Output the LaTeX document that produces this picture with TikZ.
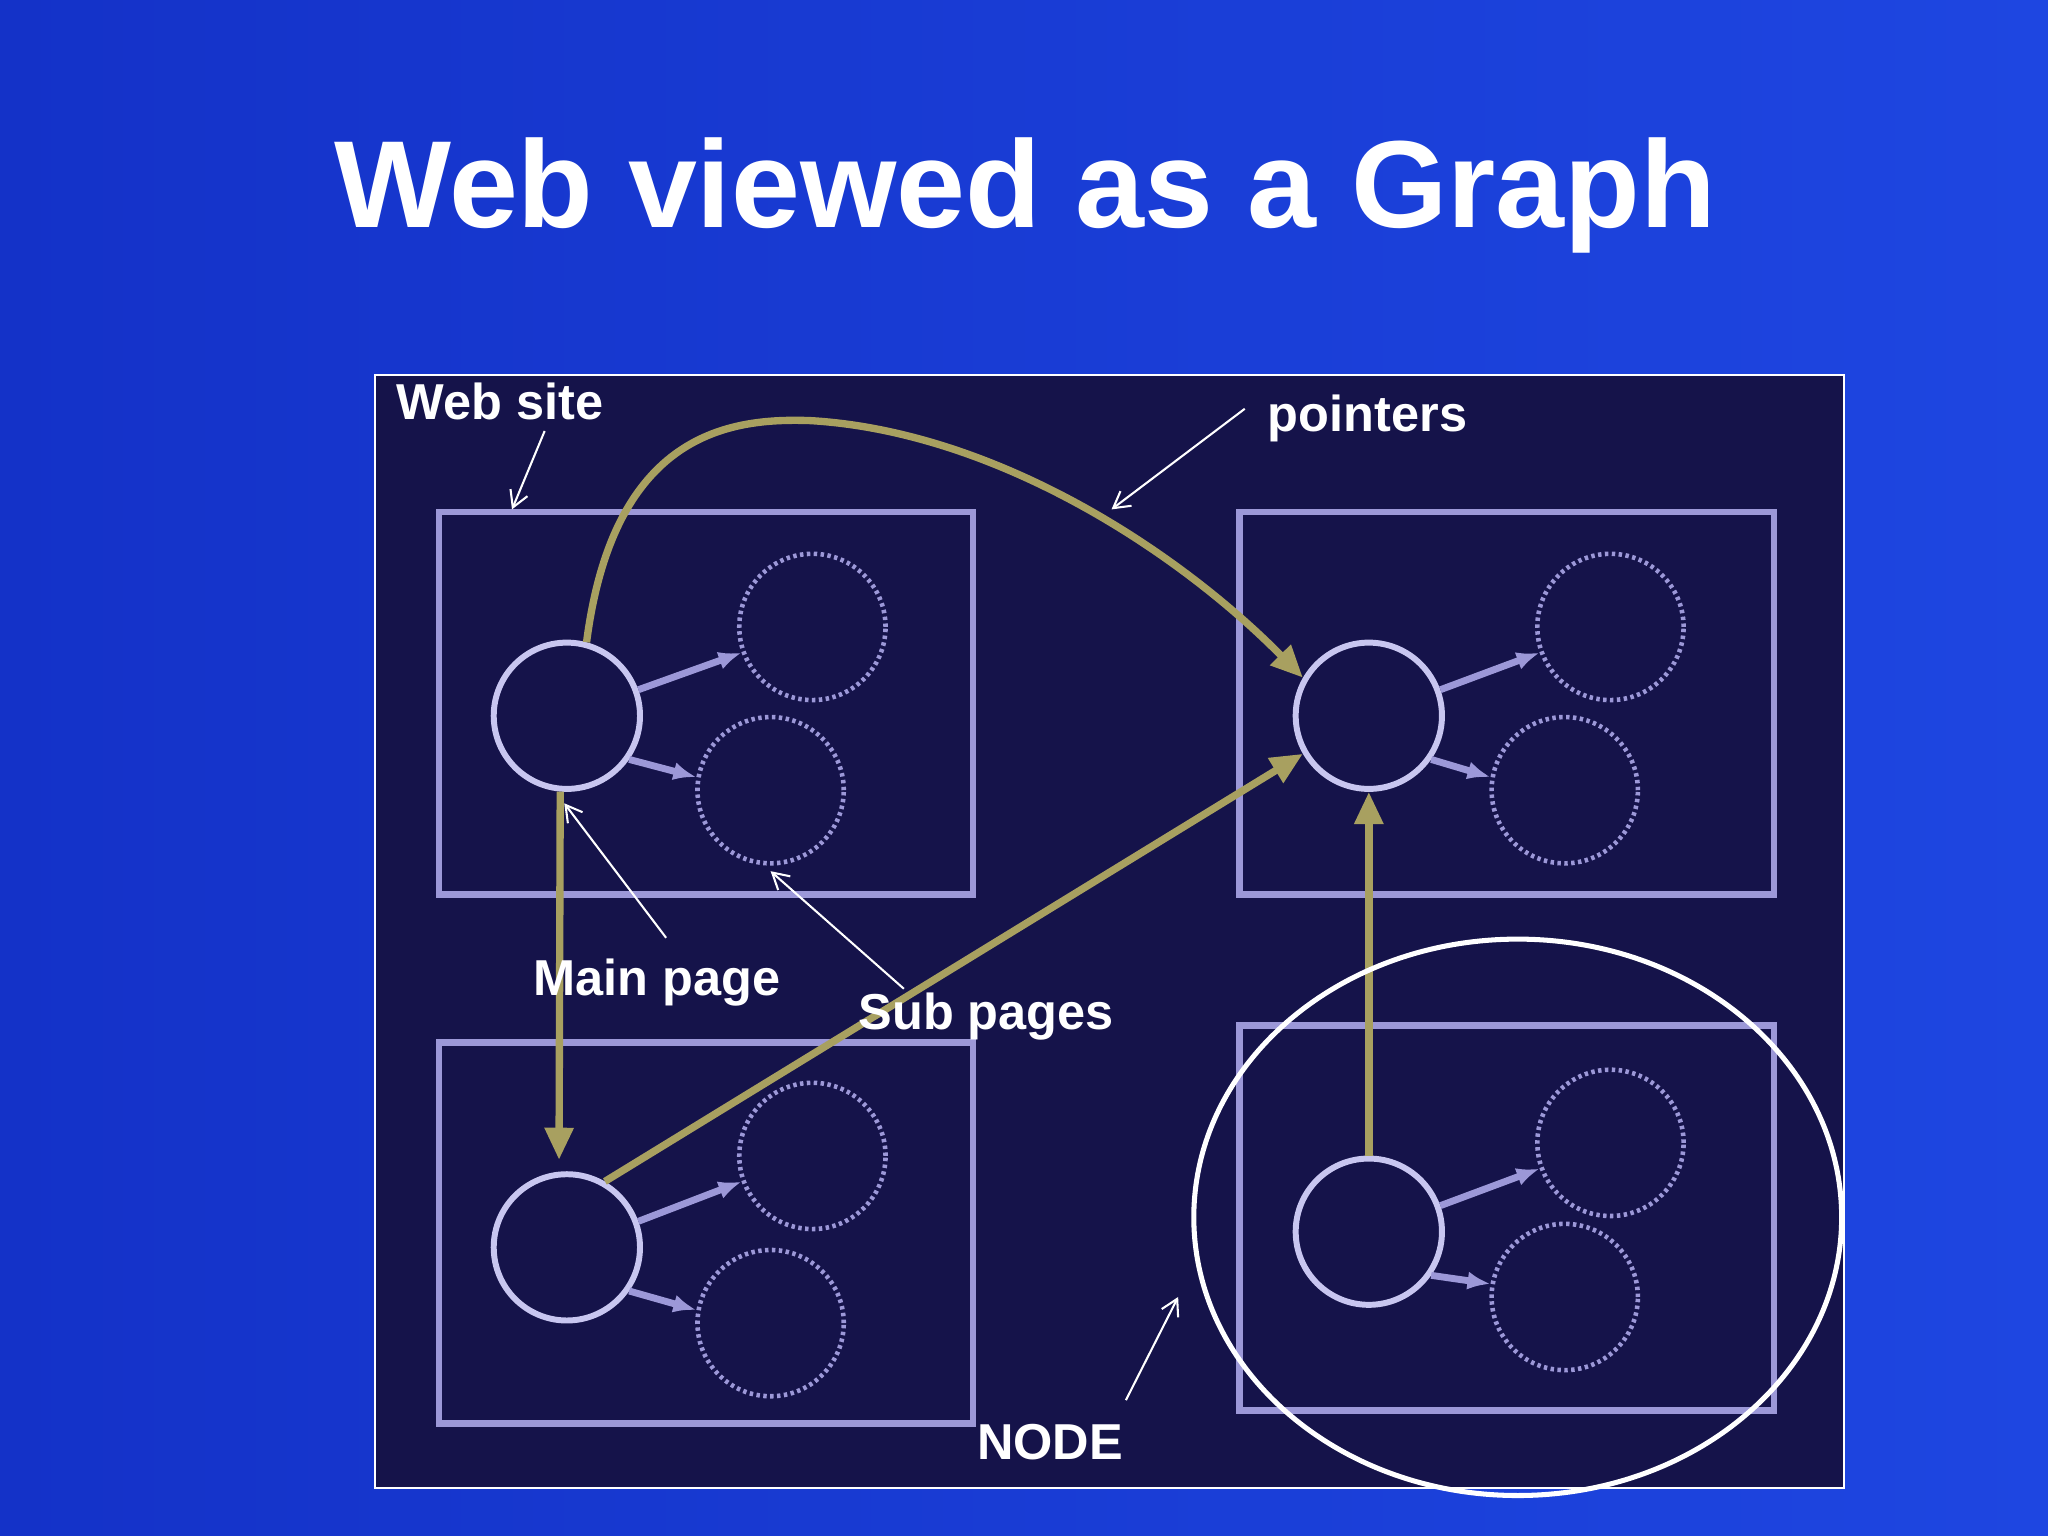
\documentclass[tikz,border=0pt]{standalone}
\usepackage{fontspec}
\setmainfont{Liberation Sans}
\usetikzlibrary{arrows.meta}
\definecolor{panel}{HTML}{15134A}
\definecolor{lav}{HTML}{9C98D8}
\definecolor{lavl}{HTML}{C8C6F0}
\definecolor{olive}{HTML}{A8A060}
\begin{document}
\begin{tikzpicture}[x=0.02cm,y=-0.02cm,
  site/.style={draw=lav,line width=2.8pt,fill=none},
  mainp/.style={circle,draw=lavl,line width=2.6pt,minimum size=112*0.02cm,inner sep=0pt},
  subp/.style={circle,draw=lav,line width=2pt,dash pattern=on 1.5pt off 1.5pt,minimum size=112*0.02cm,inner sep=0pt},
  link/.style={draw=lav,line width=3pt,-{Latex[length=10pt,width=8pt]}},
  ptr/.style={draw=olive,line width=3.2pt,-{Triangle[length=14pt,width=12pt]}},
  lbl/.style={text=white,font=\bfseries\fontsize{22}{26}\selectfont},
  note/.style={draw=white,line width=0.9pt,-{Straight Barb[length=7pt,width=8pt]}}]
\useasboundingbox (0,0) rectangle (1568,1176);
\shade[left color={rgb,255:red,20;green,50;blue,200},right color={rgb,255:red,30;green,70;blue,225}] (0,0) rectangle (1568,1176);
\node[text=white,font=\bfseries\fontsize{54}{62}\selectfont] (title) at (785,150) {Web viewed as a Graph};
\draw[white,line width=1pt,fill=panel] (287,287) rectangle (1412,1139);
% sites
\draw[site] (336,392) rectangle (745,685);
\draw[site] (949,392) rectangle (1358,685);
\draw[site] (336,798) rectangle (745,1090);
\draw[site] (949,785) rectangle (1358,1080);
% pages
\foreach \n/\mx/\my/\ax/\ay/\bx/\by in {1/434/548/622/480/590/605, 2/1048/548/1233/480/1198/605, 3/434/955/622/885/590/1013, 4/1048/943/1233/875/1198/993}{
  \node[mainp] (m\n) at (\mx,\my) {};
  \node[subp] (a\n) at (\ax,\ay) {};
  \node[subp] (b\n) at (\bx,\by) {};
  \draw[link] (m\n.20) -- (a\n.200);
  \draw[link] (m\n.-35) -- (b\n.170);
}
% pointers
\draw[ptr] (m1.75) .. controls (470,330) and (560,320) .. (620,322) .. controls (760,330) and (900,420) .. (m2.150);
\draw[ptr] (m1.-95) -- (428,888);
\draw[ptr] (m3.60) -- (m2.-150);
\draw[ptr] (m4.90) -- (m2.-90);
% node highlight
\draw[white,line width=2.2pt] (1162,932) ellipse (248 and 213);
% labels
\node[lbl] (ws) at (383,307) {Web site};
\node[lbl] (pt) at (1047,320) {pointers};
\node[lbl] (mp) at (503,752) {Main page};
\node[lbl] (sp) at (755,778) {Sub pages};
\node[lbl] (nd) at (804,1104) {NODE};
\coordinate (wsT) at (392,390);
\coordinate (ptT) at (851,390);
\coordinate (mpT) at (432,615);
\coordinate (spT) at (590,667);
\coordinate (ndT) at (902,993);
\draw[note] (417,330) -- (wsT);
\draw[note] (953,313) -- (ptT);
\draw[note] (510,718) -- (mpT);
\draw[note] (692,757) -- (spT);
\draw[note] (862,1072) -- (ndT);
\end{tikzpicture}
\end{document}
